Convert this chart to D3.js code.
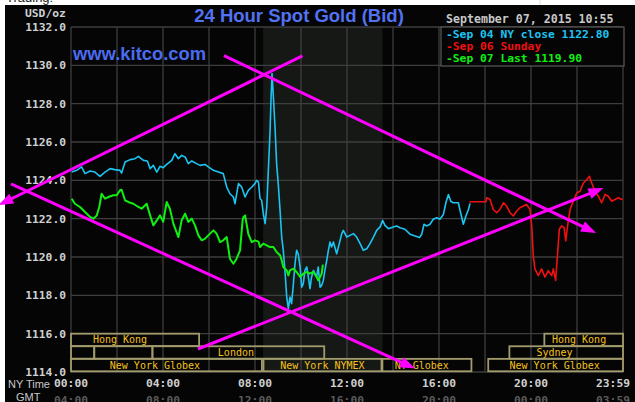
<!DOCTYPE html>
<html><head><meta charset="utf-8">
<script src="https://cdn.jsdelivr.net/npm/d3@7"></script>
<style>body{margin:0;background:#fff;overflow:hidden}svg{display:block}</style>
</head><body><svg id="c" width="635" height="402"></svg>
<script>
// ---------- data ----------
const yTicks = [1114, 1116, 1118, 1120, 1122, 1124, 1126, 1128, 1130, 1132];
const xGridHours = [0, 2, 4, 6, 8, 10, 12, 14, 16, 18, 20, 22, 24];
const nyTimeHours = [0, 4, 8, 12, 16, 20];
const nyTimeLabels = ["00:00", "04:00", "08:00", "12:00", "16:00", "20:00"];
const gmtLabels = ["04:00", "08:00", "12:00", "16:00", "20:00", "00:00"];
const lastNyLabel = "23:59";
const lastGmtLabel = "03:59";

const cyanHours = [0.03,0.25,0.46,0.61,0.83,1.04,1.26,1.48,1.70,1.91,2.13,2.20,2.35,2.57,2.78,2.93,3.15,3.32,3.44,3.58,3.73,3.87,4.01,4.16,4.38,4.52,4.67,4.81,4.96,5.10,5.25,5.46,5.61,5.83,5.97,6.19,6.41,6.62,6.77,6.91,7.06,7.13,7.28,7.42,7.57,7.71,7.86,8.00,8.07,8.15,8.22,8.29,8.36,8.44,8.51,8.58,8.65,8.70,8.74,8.80,8.87,8.94,9.01,9.09,9.16,9.23,9.30,9.38,9.45,9.52,9.59,9.67,9.74,9.81,9.88,9.96,10.03,10.10,10.17,10.25,10.32,10.39,10.46,10.54,10.61,10.68,10.75,10.83,10.90,10.97,11.04,11.12,11.19,11.26,11.33,11.41,11.55,11.70,11.77,11.84,11.99,12.13,12.28,12.42,12.57,12.71,12.86,13.00,13.15,13.29,13.44,13.55,13.65,13.80,14.01,14.16,14.30,14.52,14.74,14.96,15.15,15.25,15.35,15.46,15.61,15.75,15.90,16.04,16.19,16.30,16.41,16.51,16.62,16.84,16.94,17.06,17.17,17.28,17.35];
const cyanValues = [1124.43,1124.52,1124.70,1124.35,1124.49,1124.43,1124.21,1124.43,1124.61,1124.56,1124.52,1124.38,1124.96,1125.08,1125.13,1125.25,1125.04,1125.01,1124.61,1124.78,1124.43,1124.73,1124.66,1124.83,1125.04,1125.39,1125.13,1125.30,1125.22,1124.87,1125.01,1124.87,1124.78,1124.83,1124.70,1124.52,1124.43,1124.35,1123.65,1123.30,1123.13,1122.78,1123.83,1123.65,1123.13,1123.48,1123.65,1123.83,1124.00,1123.91,1123.04,1122.96,1122.26,1121.74,1122.61,1124.52,1126.43,1128.35,1129.57,1128.35,1126.78,1124.87,1123.83,1122.43,1121.04,1120.35,1119.30,1117.91,1117.30,1117.91,1117.57,1118.61,1119.65,1120.35,1120.17,1119.48,1118.43,1118.61,1119.30,1119.48,1118.96,1118.35,1118.96,1119.30,1119.13,1118.96,1119.48,1118.43,1118.52,1118.78,1119.30,1119.83,1120.35,1120.78,1120.52,1120.78,1120.17,1120.87,1121.22,1121.39,1121.04,1121.13,1121.22,1121.04,1120.70,1120.35,1120.43,1120.70,1121.04,1121.39,1121.57,1121.91,1121.65,1121.48,1121.57,1121.62,1121.53,1121.45,1121.19,1121.10,1121.02,1121.19,1121.71,1121.62,1121.71,1121.97,1122.05,1121.97,1122.22,1122.83,1123.26,1122.91,1122.83,1122.83,1122.31,1121.71,1122.14,1122.48,1122.80];

const redHours = [17.32,18.04,18.07,18.22,18.36,18.51,18.65,18.80,18.94,19.09,19.23,19.38,19.52,19.67,19.81,19.96,20.03,20.10,20.17,20.32,20.46,20.61,20.75,20.90,20.97,21.07,21.15,21.23,21.33,21.44,21.51,21.59,21.70,21.81,21.99,22.13,22.28,22.42,22.54,22.64,22.78,22.93,23.07,23.22,23.36,23.51,23.65,23.80,23.94,23.98];
const redValues = [1122.88,1122.88,1123.09,1123.00,1122.48,1122.31,1122.48,1122.83,1122.66,1122.31,1122.14,1122.40,1122.57,1122.66,1122.74,1122.48,1121.62,1120.07,1119.38,1119.03,1119.38,1118.95,1119.29,1119.03,1119.38,1118.78,1120.07,1121.45,1121.62,1121.53,1120.84,1121.62,1122.48,1122.83,1123.34,1123.43,1123.86,1124.03,1124.21,1123.86,1123.43,1123.17,1122.83,1123.26,1123.17,1122.91,1123.00,1123.09,1123.00,1123.03];

const greenHours = [0.03,0.17,0.39,0.61,0.83,0.97,1.12,1.23,1.33,1.48,1.62,1.84,1.99,2.13,2.20,2.35,2.49,2.71,2.93,3.07,3.29,3.44,3.58,3.73,3.87,4.01,4.16,4.30,4.45,4.67,4.81,4.96,5.10,5.25,5.39,5.54,5.68,5.83,5.97,6.19,6.33,6.48,6.62,6.77,6.91,7.06,7.20,7.35,7.46,7.50,7.57,7.71,7.86,8.00,8.15,8.22,8.36,8.51,8.65,8.80,8.94,9.09,9.16,9.23,9.38,9.45,9.52,9.67,9.81,9.96,10.10,10.25,10.39,10.54,10.68,10.75,10.83,10.90,10.95];
const greenValues = [1123.04,1122.78,1122.61,1122.35,1122.09,1122.00,1122.17,1122.61,1123.30,1123.04,1123.13,1123.22,1123.22,1123.48,1123.51,1122.96,1122.87,1122.78,1122.61,1122.52,1122.78,1122.17,1121.65,1121.91,1122.17,1121.83,1122.87,1122.52,1121.74,1121.04,1121.91,1122.26,1121.83,1122.00,1121.65,1121.13,1120.87,1120.96,1121.13,1121.39,1121.22,1120.78,1120.87,1121.04,1119.91,1119.65,1119.91,1120.35,1121.91,1122.09,1122.17,1121.20,1120.78,1120.87,1120.80,1120.52,1120.70,1120.61,1120.52,1120.52,1120.26,1120.09,1119.83,1119.48,1119.30,1119.04,1119.30,1119.39,1119.22,1118.96,1119.13,1119.22,1119.13,1119.22,1118.96,1118.78,1118.96,1119.13,1119.60];

const legendTitle = "September 07, 2015 10:55";
const legendLabels = ["Sep 04 NY close 1122.80", "Sep 06 Sunday", "Sep 07 Last 1119.90"];

const sessionNames = ["Hong Kong", "Hong Kong", "", "", "London", "Sydney", "New York Globex", "New York NYMEX", "NY Globex", "New York Globex"];
const sessionRows  = [0, 0, 1, 1, 1, 1, 2, 2, 2, 2];
const sessionStart = [0, 20.58, 0, 1.01, 3.54, 19.06, 0, 8.37, 13.54, 18.14];
const sessionEnd   = [5.57, 24, 1.01, 3.54, 11.01, 24, 8.30, 13.50, 17.41, 24];
const sessionLabelHour = [2.13, 22.09, 0, 0, 7.17, 21.02, 3.65, 10.93, 15.25, 21.03];

const shadeStart = 8.35, shadeEnd = 13.55; // NYMEX hours

const arrowFromHour  = [10.06, 6.65, -2.61, 5.52];
const arrowFromValue = [1130.49, 1130.51, 1123.81, 1115.20];
const arrowToHour    = [-3.16, 22.83, 14.96, 23.15];
const arrowToValue   = [1122.70, 1121.25, 1114.18, 1123.60];

// ---------- drawing ----------
const svg = d3.select("#c");
const W = 635, H = 402;
const x = d3.scaleLinear().domain([0, 24]).range([71, 623]);
const y = d3.scaleLinear().domain([1114, 1132]).range([372, 27]);
const mono = "'DejaVu Sans Mono', monospace";

svg.append("rect").attr("width", W).attr("height", H).attr("fill", "#fff");
svg.append("text").attr("x", 6).attr("y", 1.5).attr("font-family", "Liberation Sans, Arial").attr("font-size", 13).attr("fill", "#222").text("Trading:");
svg.append("line").attr("x1", 540).attr("x2", 540).attr("y1", 0).attr("y2", 5).attr("stroke", "#ddd");
svg.append("rect").attr("x", 5).attr("y", 5).attr("width", W - 5).attr("height", H - 5).attr("fill", "#050506");

// shaded NYMEX region
svg.append("rect").attr("x", x(shadeStart)).attr("y", y(1132)).attr("width", x(shadeEnd) - x(shadeStart))
  .attr("height", y(1114) - y(1132)).attr("fill", "#151815");

// grid
const grid = svg.append("g").attr("stroke", "#3e3e3e").attr("stroke-width", 1.3);
grid.selectAll("line.h").data(yTicks).join("line").attr("class", "h")
  .attr("x1", x(0)).attr("x2", x(24)).attr("y1", d => y(d)).attr("y2", d => y(d));
grid.selectAll("line.v").data(xGridHours).join("line").attr("class", "v")
  .attr("x1", d => x(d)).attr("x2", d => x(d)).attr("y1", y(1132)).attr("y2", y(1114));

// y labels
svg.append("g").selectAll("text").data(yTicks).join("text")
  .attr("x", 66).attr("y", d => y(d) + 4).attr("text-anchor", "end")
  .attr("font-family", mono).attr("font-weight", "bold").attr("font-size", 11.3).attr("fill", "#d0d0d0")
  .text(d => d.toFixed(1));
svg.append("text").attr("x", 25).attr("y", 17).attr("font-family", mono).attr("font-weight", "bold")
  .attr("font-size", 11.3).attr("fill", "#d0d0d0").text("USD/oz");

// market session boxes
const rowTop = r => y(1116) + r * 12.6;
const sess = svg.append("g");
sessionNames.forEach((n, i) => {
  const r = sessionRows[i];
  sess.append("rect").attr("x", x(sessionStart[i])).attr("y", rowTop(r))
    .attr("width", x(sessionEnd[i]) - x(sessionStart[i])).attr("height", 12.4)
    .attr("fill", "none").attr("stroke", "#a29c6c").attr("stroke-width", 1.8);
  if (n) sess.append("text").attr("x", x(sessionLabelHour[i])).attr("y", rowTop(r) + 9.8)
    .attr("text-anchor", "middle").attr("font-family", mono).attr("font-size", 10)
    .attr("fill", "#f5c21d").text(n);
});

// series
const line = d3.line().x(d => x(d[0])).y(d => y(d[1]));
function drawSeries(hs, vs, color, w) {
  svg.append("path").datum(d3.zip(hs, vs)).attr("d", line)
    .attr("fill", "none").attr("stroke", color).attr("stroke-width", w).attr("stroke-linejoin", "round");
}
drawSeries(cyanHours, cyanValues, "#1cc4f2", 1.6);
drawSeries(greenHours, greenValues, "#10f010", 2);
drawSeries(redHours, redValues, "#f01010", 1.6);

// legend box
svg.append("rect").attr("x", 441).attr("y", 27).attr("width", 183).attr("height", 39)
  .attr("fill", "#050506").attr("stroke", "#555").attr("stroke-width", 1.3);
svg.append("text").attr("x", 446).attr("y", 23).attr("font-family", mono).attr("font-weight", "bold")
  .attr("font-size", 11.6).attr("fill", "#c8c8c8").text(legendTitle);
const legendColors = ["#1cc4f2", "#f01010", "#10f010"];
legendLabels.forEach((t, i) => {
  svg.append("text").attr("x", 446).attr("y", 37.5 + i * 12.4).attr("font-family", mono).attr("font-weight", "bold")
    .attr("font-size", 11.3).attr("fill", legendColors[i]).text("-" + t);
});

// title & site
svg.append("text").attr("x", 299).attr("y", 21.5).attr("text-anchor", "middle")
  .attr("font-family", "Liberation Sans, Arial").attr("font-weight", "bold").attr("font-size", 18.5)
  .attr("fill", "#5272f2").text("24 Hour Spot Gold (Bid)");
svg.append("text").attr("x", 73).attr("y", 60).attr("font-family", "Liberation Sans, Arial")
  .attr("font-weight", "bold").attr("font-size", 18.4).attr("fill", "#4a6cf0").text("www.kitco.com");

// x labels
const xl = svg.append("g").attr("font-family", mono).attr("font-weight", "bold").attr("font-size", 11.3);
nyTimeHours.forEach((h, i) => {
  xl.append("text").attr("x", x(h)).attr("y", 387).attr("text-anchor", "middle").attr("fill", "#d0d0d0").text(nyTimeLabels[i]);
  xl.append("text").attr("x", x(h)).attr("y", 404).attr("text-anchor", "middle").attr("fill", "#5a5a5a").text(gmtLabels[i]);
});
xl.append("text").attr("x", x(24) + 7).attr("y", 387).attr("text-anchor", "end").attr("fill", "#d0d0d0").text(lastNyLabel);
xl.append("text").attr("x", x(24) + 7).attr("y", 404).attr("text-anchor", "end").attr("fill", "#5a5a5a").text(lastGmtLabel);
svg.append("text").attr("x", 8).attr("y", 388).attr("font-family", "Liberation Sans, Arial").attr("font-size", 11)
  .attr("fill", "#c8c8c8").text("NY Time");
svg.append("text").attr("x", 16).attr("y", 401).attr("font-family", "Liberation Sans, Arial").attr("font-size", 11)
  .attr("fill", "#c8c8c8").text("GMT");

// magenta annotation arrows
const ann = svg.append("g");
arrowFromHour.forEach((h, i) => {
  const x1 = x(h), y1 = y(arrowFromValue[i]), x2 = x(arrowToHour[i]), y2 = y(arrowToValue[i]);
  const dx = x2 - x1, dy = y2 - y1, L = Math.hypot(dx, dy), ux = dx / L, uy = dy / L;
  const len = 15, hw = 5.5;
  const bx = x2 - ux * len, by = y2 - uy * len;
  ann.append("line").attr("x1", x1).attr("y1", y1).attr("x2", bx + ux * 2).attr("y2", by + uy * 2)
    .attr("stroke", "#ff00ff").attr("stroke-width", 3);
  ann.append("path").attr("d", `M${x2},${y2}L${bx - uy * hw},${by + ux * hw}L${bx + uy * hw},${by - ux * hw}Z`)
    .attr("fill", "#ff00ff");
});
</script></body></html>
